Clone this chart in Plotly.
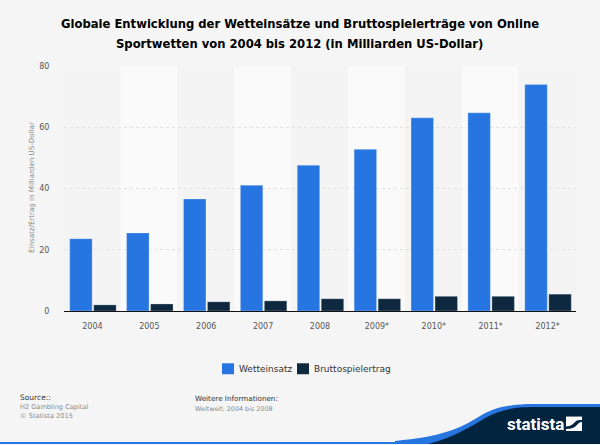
import plotly.graph_objects as go

years = ["2004", "2005", "2006", "2007", "2008", "2009*", "2010*", "2011*", "2012*"]
wetteinsatz = [23.6, 25.5, 36.6, 41.1, 47.6, 52.8, 63.1, 64.7, 74]
bruttospielertrag = [2, 2.3, 3, 3.3, 4, 4, 4.8, 4.8, 5.5]
y_ticks = [0, 20, 40, 60, 80]
series_names = ["Wetteinsatz", "Bruttospielertrag"]
title_lines = ["Globale Entwicklung der Wetteinsätze und Bruttospielerträge von Online",
               "Sportwetten von 2004 bis 2012 (in Milliarden US-Dollar)"]

W, H = 600, 445
L, R, T, B = 64, 576, 65.5, 311.5
FONT = "DejaVu Sans"
BLUE, NAVY = "#2775e0", "#0e2840"

def px(x):
    return (x - L) / (R - L)

def py(y):
    return (B - y) / (B - T)

def path(cmds):
    out = []
    for c in cmds:
        if c == "Z":
            out.append("Z")
        else:
            op, pts = c
            if op == "L":
                out.extend(f"L{px(x):.5f},{py(y):.5f}" for x, y in pts)
            else:
                out.append(op + " ".join(f"{px(x):.5f},{py(y):.5f}" for x, y in pts))
    return " ".join(out)

fig = go.Figure()
bar_line = dict(color="rgba(255,255,255,0.45)", width=0.6)
fig.add_bar(x=years, y=wetteinsatz, name=series_names[0], width=0.395, offset=-0.4,
            marker=dict(color=BLUE, line=bar_line), showlegend=False)
fig.add_bar(x=years, y=bruttospielertrag, name=series_names[1], width=0.395, offset=0.022,
            marker=dict(color=NAVY, line=bar_line), showlegend=False)

shapes = []
for i in range(len(years)):
    shapes.append(dict(type="rect", xref="x", yref="paper", x0=i - 0.51, x1=i + 0.49, y0=0, y1=1,
                       fillcolor="#fafafa" if i % 2 else "#f4f4f4", line_width=0, layer="below"))

def foot(d, color):
    shapes.append(dict(type="path", xref="paper", yref="paper", path=d, fillcolor=color, line_width=0, layer="above"))

foot(path([("M", [(0, 443)]), ("L", [(600, 443), (600, 445), (0, 445)]), "Z"]), BLUE)
foot(path([("M", [(395, 442)]),
           ("C", [(440, 438), (460, 430), (480, 417)]),
           ("C", [(495, 408), (510, 405), (535, 405)]),
           ("L", [(600, 405), (600, 445), (395, 445)]), "Z"]), BLUE)
foot(path([("M", [(428, 445)]),
           ("C", [(455, 438), (470, 428), (487, 418)]),
           ("C", [(500, 411), (512, 408), (535, 408)]),
           ("L", [(600, 408), (600, 445), (428, 445)]), "Z"]), "#02243f")
# logo glyph
foot(path([("M", [(566, 417.5)]), ("L", [(582, 417.5), (582, 432), (566, 432)]), "Z"]), "#ffffff")
foot(path([("M", [(566, 427.5)]), ("C", [(571, 427.5), (573, 425), (575, 423)]),
           ("C", [(577, 421), (579, 421), (582, 421)]), ("L", [(582, 423)]),
           ("C", [(579, 423), (578, 425), (576, 427)]),
           ("C", [(574, 429), (571, 430), (566, 430)]), "Z"]), "#02243f")

# legend
for x0, color in ((222, BLUE), (297, NAVY)):
    shapes.append(dict(type="rect", xref="paper", yref="paper", x0=px(x0), x1=px(x0 + 12),
                       y0=py(375), y1=py(364), fillcolor=color, line_width=0))

annos = [
    dict(text=title_lines[0], x=px(300), y=py(23), xanchor="center", yanchor="middle",
         font=dict(family=FONT, size=11.6, color="#000000", weight="bold")),
    dict(text=title_lines[1], x=px(299.5), y=py(43), xanchor="center", yanchor="middle",
         font=dict(family=FONT, size=11.6, color="#000000", weight="bold")),
    dict(text="Einsatz/Ertrag in Milliarden US-Dollar", x=px(31), y=py(188), textangle=-90,
         xanchor="center", yanchor="middle", font=dict(family=FONT, size=7.1, color="#8a8a8a")),
    dict(text="Source::", x=px(18), y=py(398), xanchor="left", yanchor="middle",
         font=dict(family=FONT, size=7.5, color="#333333")),
    dict(text="H2 Gambling Capital", x=px(18), y=py(407.5), xanchor="left", yanchor="middle",
         font=dict(family=FONT, size=6.6, color="#8a8a8a")),
    dict(text="© Statista 2015", x=px(18), y=py(417), xanchor="left", yanchor="middle",
         font=dict(family=FONT, size=6.6, color="#8a8a8a")),
    dict(text="Weitere Informationen:", x=px(192.5), y=py(399), xanchor="left", yanchor="middle",
         font=dict(family=FONT, size=7.2, color="#333333")),
    dict(text="Weltweit; 2004 bis 2008", x=px(192.5), y=py(410), xanchor="left", yanchor="middle",
         font=dict(family=FONT, size=6.4, color="#8a8a8a")),
    dict(text="statista", x=px(504.5), y=py(425), xanchor="left", yanchor="middle",
         font=dict(family="Roboto", size=17, color="#ffffff", weight="bold")),
    dict(text=series_names[0], x=px(236.5), y=py(369.5), xanchor="left", yanchor="middle",
         font=dict(family=FONT, size=9, color="#333333")),
    dict(text=series_names[1], x=px(311.5), y=py(369.5), xanchor="left", yanchor="middle",
         font=dict(family=FONT, size=9, color="#333333")),
]
for a in annos:
    a.update(xref="paper", yref="paper", showarrow=False)

fig.update_layout(
    width=W, height=H, autosize=False,
    margin=dict(l=L, r=W - R, t=T, b=H - B, pad=0),
    paper_bgcolor="#f5f5f5", plot_bgcolor="rgba(0,0,0,0)",
    barmode="group",
    font=dict(family=FONT, size=8, color="#555555"),
    shapes=shapes, annotations=annos,
    showlegend=False,
    xaxis=dict(type="category", range=[-0.5, 8.5], showgrid=False, showline=True,
               linecolor="#111111", linewidth=1, ticks="outside", ticklen=7, tickcolor="rgba(0,0,0,0)",
               tickfont=dict(family=FONT, size=8, color="#555555")),
    yaxis=dict(range=[0, 80], tickvals=y_ticks, showgrid=True, gridcolor="#e2e2e2",
               griddash="dot", gridwidth=1, zeroline=False, showline=False,
               ticks="outside", ticklen=12, tickcolor="rgba(0,0,0,0)",
               tickfont=dict(family=FONT, size=8, color="#555555")),
)
fig.write_html("out.html", config={"displayModeBar": False},
               post_script="document.body.style.margin='0';document.documentElement.style.background='#f5f5f5';")
